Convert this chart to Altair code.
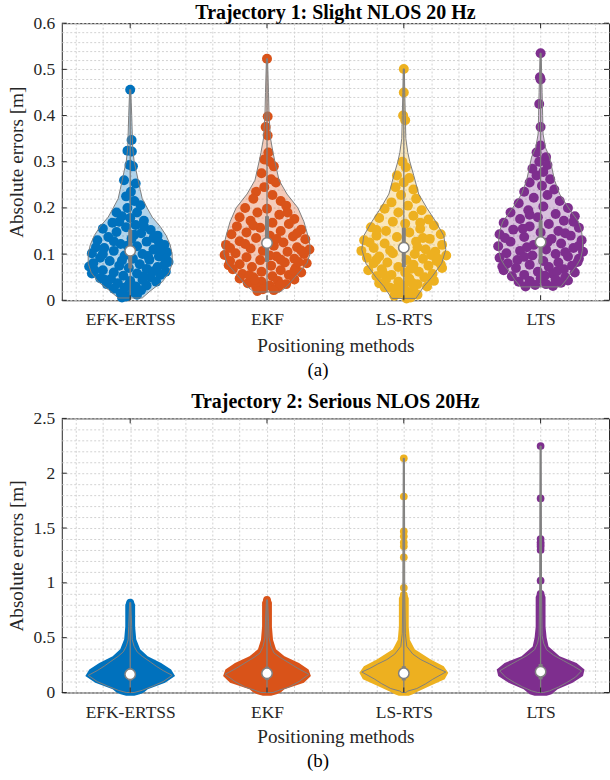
import altair as alt
import pandas as pd

FONT = "Liberation Serif"
TEXT = "#262626"
GRAY = "#808080"

methods = ["EFK-ERTSS", "EKF", "LS-RTS", "LTS"]
positions = [1, 2, 3, 4]
colors = ["#0072BD", "#D95319", "#EDB120", "#7E2F8E"]

# ---------------- panel (a): Trajectory 1 ----------------
a_title = "Trajectory 1: Slight NLOS 20 Hz"
a_caption = "(a)"

# violin outlines: (error value [m], half width in x-axis units)
a_efk_shape = [(0.005, 0.088), (0.02, 0.146), (0.04, 0.234), (0.06, 0.285), (0.08, 0.307), (0.10, 0.307),
               (0.12, 0.292), (0.14, 0.263), (0.16, 0.219), (0.18, 0.161), (0.20, 0.124), (0.22, 0.088),
               (0.24, 0.073), (0.26, 0.058), (0.28, 0.044), (0.30, 0.029), (0.33, 0.018), (0.36, 0.015),
               (0.40, 0.011), (0.456, 0.004)]
a_ekf_shape = [(0.018, 0.095), (0.03, 0.146), (0.05, 0.204), (0.08, 0.292), (0.10, 0.314), (0.12, 0.314),
               (0.14, 0.299), (0.17, 0.27), (0.20, 0.226), (0.23, 0.146), (0.26, 0.088), (0.28, 0.073),
               (0.30, 0.058), (0.32, 0.044), (0.35, 0.026), (0.40, 0.015), (0.45, 0.011), (0.523, 0.004)]
a_ls_shape = [(0.004, 0.088), (0.02, 0.124), (0.03, 0.146), (0.05, 0.204), (0.08, 0.277), (0.11, 0.307),
              (0.14, 0.292), (0.17, 0.234), (0.20, 0.168), (0.23, 0.109), (0.27, 0.073), (0.30, 0.044),
              (0.32, 0.029), (0.35, 0.015), (0.40, 0.011), (0.45, 0.007), (0.501, 0.004)]
a_lts_shape = [(0.029, 0.146), (0.045, 0.19), (0.058, 0.219), (0.075, 0.263), (0.09, 0.292), (0.11, 0.307),
               (0.13, 0.307), (0.15, 0.299), (0.17, 0.277), (0.20, 0.204), (0.23, 0.139), (0.26, 0.102),
               (0.29, 0.08), (0.31, 0.066), (0.33, 0.036), (0.36, 0.018), (0.40, 0.015), (0.45, 0.011),
               (0.535, 0.004)]

# scatter samples: (error value [m], jitter in x-axis units)
a_efk_pts = [(0.456, 0.0), (0.347, 0.01), (0.324, -0.02), (0.322, 0.012), (0.293, -0.005), (0.29, 0.02),
             (0.26, -0.045), (0.253, 0.04), (0.235, 0.005), (0.225, -0.03), (0.215, 0.03), (0.206, 0.075),
             (0.2, -0.02), (0.19, -0.1), (0.19, 0.05), (0.182, -0.06), (0.178, 0.0), (0.172, 0.1),
             (0.168, -0.13), (0.163, 0.04), (0.158, -0.03), (0.155, -0.2), (0.152, 0.15), (0.148, -0.1),
             (0.145, 0.08), (0.14, 0.2), (0.137, -0.16), (0.135, 0.17), (0.133, 0.01), (0.13, -0.24),
             (0.127, 0.12), (0.125, 0.21), (0.122, -0.07), (0.12, 0.25), (0.117, 0.05), (0.115, -0.25),
             (0.113, -0.19), (0.11, 0.17), (0.107, -0.12), (0.104, 0.27), (0.102, -0.28), (0.1, 0.09),
             (0.097, -0.04), (0.095, 0.21), (0.092, -0.22), (0.09, 0.02), (0.09, 0.26), (0.088, 0.14),
             (0.085, -0.15), (0.083, 0.28), (0.08, -0.27), (0.078, 0.07), (0.075, -0.08), (0.073, -0.3),
             (0.072, 0.2), (0.07, -0.01), (0.068, 0.12), (0.065, -0.2), (0.065, -0.26), (0.062, 0.26),
             (0.06, -0.12), (0.058, 0.05), (0.055, 0.22), (0.053, -0.05), (0.05, 0.15), (0.048, -0.22),
             (0.046, -0.14), (0.044, 0.09), (0.042, 0.0), (0.04, 0.19), (0.037, -0.09), (0.035, -0.17),
             (0.032, 0.12), (0.03, 0.04), (0.027, -0.04), (0.025, -0.12), (0.022, 0.08), (0.018, 0.02),
             (0.015, -0.07), (0.012, 0.05), (0.008, -0.03), (0.006, -0.06),
             (0.118, -0.02), (0.128, -0.12), (0.142, 0.03), (0.096, 0.13), (0.086, -0.06), (0.077, 0.25),
             (0.063, 0.17), (0.052, 0.1), (0.045, -0.19), (0.034, -0.01), (0.108, 0.22), (0.16, 0.1),
             (0.17, -0.08), (0.1, -0.2), (0.058, -0.28)]
a_ekf_pts = [(0.523, 0.0), (0.398, 0.005), (0.375, -0.01), (0.357, 0.005), (0.32, 0.01), (0.305, -0.02),
             (0.3, 0.02), (0.29, 0.05), (0.275, -0.04), (0.262, 0.03), (0.255, 0.065), (0.245, -0.02),
             (0.235, -0.08), (0.228, 0.04), (0.22, -0.1), (0.215, 0.1), (0.205, 0.14), (0.2, -0.16),
             (0.198, 0.0), (0.19, -0.07), (0.185, 0.09), (0.18, -0.2), (0.176, 0.2), (0.172, -0.12),
             (0.168, 0.04), (0.165, 0.16), (0.16, -0.22), (0.157, -0.05), (0.153, 0.25), (0.15, 0.1),
             (0.147, -0.15), (0.143, -0.26), (0.14, 0.02), (0.138, 0.19), (0.135, -0.08), (0.132, 0.28),
             (0.128, -0.2), (0.125, 0.12), (0.12, -0.3), (0.118, 0.05), (0.115, 0.22), (0.112, -0.12),
             (0.11, 0.31), (0.107, -0.03), (0.105, 0.15), (0.102, -0.23), (0.1, 0.27), (0.098, -0.31),
             (0.095, 0.07), (0.093, -0.15), (0.09, 0.2), (0.087, -0.05), (0.085, -0.27), (0.082, 0.13),
             (0.08, 0.29), (0.078, -0.2), (0.075, 0.03), (0.072, -0.11), (0.07, 0.21), (0.067, -0.25),
             (0.065, 0.1), (0.062, -0.04), (0.06, 0.25), (0.057, -0.18), (0.055, 0.16), (0.052, 0.04),
             (0.05, -0.1), (0.047, -0.2), (0.045, 0.2), (0.042, 0.08), (0.04, -0.04), (0.037, -0.14),
             (0.035, 0.14), (0.032, 0.02), (0.03, -0.08), (0.027, 0.08), (0.024, -0.03), (0.022, 0.05),
             (0.02, -0.07),
             (0.133, 0.07), (0.122, -0.16), (0.108, 0.25), (0.097, 0.02), (0.088, 0.1), (0.076, -0.28),
             (0.064, 0.2), (0.054, -0.13), (0.044, -0.09), (0.034, 0.1), (0.145, 0.22), (0.162, -0.1),
             (0.113, -0.27), (0.083, 0.23), (0.19, 0.15)]
a_ls_pts = [(0.501, 0.0), (0.45, 0.0), (0.4, -0.005), (0.39, 0.01), (0.3, -0.01), (0.288, 0.015),
            (0.27, -0.05), (0.265, 0.04), (0.255, 0.0), (0.245, -0.06), (0.24, 0.07), (0.228, -0.02),
            (0.22, 0.09), (0.212, -0.09), (0.205, 0.03), (0.198, -0.14), (0.195, 0.13), (0.19, -0.04),
            (0.183, 0.07), (0.178, -0.18), (0.175, 0.18), (0.17, -0.08), (0.166, 0.01), (0.162, 0.22),
            (0.158, -0.24), (0.155, 0.12), (0.15, -0.13), (0.147, 0.04), (0.143, 0.27), (0.14, -0.2),
            (0.137, -0.05), (0.133, 0.19), (0.13, -0.29), (0.127, 0.09), (0.123, -0.14), (0.12, 0.28),
            (0.117, 0.0), (0.113, -0.22), (0.11, 0.16), (0.107, -0.31), (0.105, 0.23), (0.102, -0.08),
            (0.1, 0.08), (0.097, 0.31), (0.095, -0.18), (0.092, -0.27), (0.09, 0.14), (0.087, 0.02),
            (0.085, 0.24), (0.082, -0.12), (0.08, -0.22), (0.077, 0.07), (0.075, 0.18), (0.072, -0.04),
            (0.07, 0.28), (0.067, -0.16), (0.065, -0.26), (0.062, 0.11), (0.06, 0.01), (0.057, 0.21),
            (0.055, -0.09), (0.052, -0.2), (0.05, 0.15), (0.047, 0.04), (0.045, -0.13), (0.042, 0.22),
            (0.04, -0.04), (0.037, -0.18), (0.035, 0.1), (0.032, 0.0), (0.03, 0.17), (0.027, -0.1),
            (0.025, -0.06), (0.022, 0.07), (0.019, 0.02), (0.016, -0.03), (0.012, 0.1), (0.01, -0.07),
            (0.006, 0.05), (0.004, 0.02),
            (0.135, 0.14), (0.125, -0.25), (0.115, 0.1), (0.098, 0.2), (0.088, -0.2), (0.078, 0.27),
            (0.068, 0.05), (0.058, -0.15), (0.048, 0.2), (0.038, 0.06), (0.152, -0.2), (0.168, 0.12),
            (0.108, -0.1), (0.09, 0.25), (0.028, -0.14)]
a_lts_pts = [(0.535, 0.0), (0.483, -0.005), (0.478, 0.0), (0.425, -0.01), (0.375, 0.0), (0.335, 0.0),
             (0.32, -0.03), (0.31, 0.04), (0.3, -0.01), (0.293, 0.05), (0.285, -0.06), (0.278, 0.02),
             (0.27, -0.03), (0.262, 0.07), (0.255, -0.08), (0.248, 0.01), (0.24, 0.1), (0.235, -0.12),
             (0.228, 0.05), (0.222, -0.05), (0.215, 0.14), (0.21, -0.16), (0.203, 0.02), (0.2, 0.2),
             (0.195, -0.09), (0.19, -0.22), (0.187, 0.11), (0.182, 0.25), (0.18, -0.02), (0.176, -0.15),
             (0.172, 0.17), (0.168, -0.27), (0.165, 0.06), (0.16, -0.08), (0.157, 0.28), (0.153, -0.2),
             (0.15, 0.13), (0.147, 0.0), (0.143, -0.3), (0.14, 0.22), (0.137, -0.12), (0.133, 0.08),
             (0.13, 0.3), (0.127, -0.22), (0.123, 0.15), (0.12, -0.05), (0.117, -0.31), (0.113, 0.24),
             (0.11, 0.04), (0.107, -0.15), (0.105, 0.31), (0.102, -0.25), (0.1, 0.11), (0.097, -0.06),
             (0.095, 0.2), (0.092, -0.3), (0.09, 0.28), (0.087, -0.17), (0.085, 0.02), (0.082, 0.13),
             (0.08, -0.24), (0.077, -0.08), (0.075, 0.23), (0.072, 0.06), (0.07, -0.18), (0.067, 0.17),
             (0.065, -0.27), (0.062, -0.02), (0.06, 0.25), (0.057, 0.09), (0.055, -0.12), (0.052, -0.21),
             (0.05, 0.18), (0.047, 0.0), (0.045, 0.11), (0.042, -0.08), (0.04, -0.16), (0.038, 0.15),
             (0.035, 0.04), (0.033, -0.04), (0.031, 0.09), (0.03, -0.11),
             (0.145, 0.18), (0.135, -0.26), (0.125, 0.05), (0.115, -0.1), (0.104, 0.18), (0.094, -0.12),
             (0.083, 0.27), (0.073, -0.28), (0.063, 0.12), (0.053, 0.03), (0.043, 0.2), (0.155, -0.13),
             (0.17, 0.24), (0.185, -0.08), (0.118, 0.28)]

a_q1 = [0.069, 0.083, 0.072, 0.08]
a_median = [0.107, 0.124, 0.114, 0.126]
a_q3 = [0.153, 0.182, 0.157, 0.173]
a_min = [0.005, 0.018, 0.004, 0.029]
a_max = [0.456, 0.523, 0.501, 0.535]
a_yticks = [0, 0.1, 0.2, 0.3, 0.4, 0.5, 0.6]

# ---------------- panel (b): Trajectory 2 ----------------
b_title = "Trajectory 2: Serious NLOS 20Hz"
b_caption = "(b)"

b_efk_shape = [(0.0, 0.029), (0.02, 0.088), (0.06, 0.168), (0.1, 0.241), (0.156, 0.307), (0.2, 0.241),
               (0.24, 0.19), (0.28, 0.146), (0.33, 0.088), (0.37, 0.051), (0.42, 0.029), (0.48, 0.015),
               (0.6, 0.011), (0.82, 0.004)]
b_ekf_shape = [(0.0, 0.044), (0.02, 0.088), (0.05, 0.161), (0.1, 0.234), (0.166, 0.307), (0.22, 0.226),
               (0.27, 0.161), (0.32, 0.095), (0.36, 0.051), (0.42, 0.029), (0.5, 0.015), (0.65, 0.011),
               (0.845, 0.004)]
b_ls_shape = [(0.0, 0.015), (0.013, 0.029), (0.036, 0.095), (0.08, 0.161), (0.121, 0.212), (0.187, 0.307),
              (0.22, 0.248), (0.26, 0.19), (0.3, 0.124), (0.35, 0.066), (0.42, 0.022), (0.54, 0.011),
              (0.9, 0.007), (1.5, 0.006), (2.136, 0.004)]
b_lts_shape = [(0.0, 0.022), (0.015, 0.066), (0.05, 0.131), (0.09, 0.19), (0.14, 0.255), (0.197, 0.299),
               (0.24, 0.241), (0.29, 0.168), (0.34, 0.095), (0.39, 0.044), (0.45, 0.022), (0.52, 0.011),
               (0.9, 0.007), (1.5, 0.006), (2.248, 0.004)]

# envelope of the densely packed sample markers (too many to draw one by one)
b_efk_dense = [(-0.03, 0.03), (-0.015, 0.07), (0.0, 0.1), (0.03, 0.128), (0.09, 0.255), (0.15, 0.328),
               (0.21, 0.299), (0.27, 0.226), (0.33, 0.128), (0.394, 0.073), (0.485, 0.044), (0.6, 0.036),
               (0.8, 0.036), (0.83, 0.026), (0.85, 0.004)]
b_ekf_dense = [(-0.03, 0.03), (-0.015, 0.07), (0.0, 0.1), (0.03, 0.128), (0.09, 0.27), (0.15, 0.321),
               (0.21, 0.304), (0.27, 0.234), (0.33, 0.128), (0.394, 0.066), (0.48, 0.044), (0.6, 0.036),
               (0.82, 0.036), (0.85, 0.026), (0.87, 0.004)]
b_ls_dense = [(-0.03, 0.036), (-0.015, 0.066), (0.0, 0.088), (0.06, 0.19), (0.12, 0.299), (0.18, 0.325),
              (0.24, 0.292), (0.3, 0.197), (0.394, 0.08), (0.48, 0.044), (0.6, 0.036), (0.86, 0.036),
              (0.89, 0.026), (0.905, 0.004)]
b_lts_dense = [(-0.03, 0.044), (-0.015, 0.08), (0.03, 0.124), (0.09, 0.234), (0.15, 0.31), (0.21, 0.321),
               (0.27, 0.263), (0.33, 0.139), (0.42, 0.058), (0.5, 0.044), (0.6, 0.036), (0.87, 0.036),
               (0.9, 0.026), (0.915, 0.004)]

# isolated samples above the dense part
b_efk_out = [0.82]
b_ekf_out = [0.845]
b_ls_out = [2.136, 1.787, 1.469, 1.424, 1.369, 1.333, 1.233, 0.955, 0.89]
b_lts_out = [2.248, 1.77, 1.40, 1.37, 1.35, 1.33, 1.30, 1.02, 0.9]

b_q1 = [0.11, 0.115, 0.11, 0.12]
b_median = [0.166, 0.175, 0.175, 0.19]
b_q3 = [0.22, 0.235, 0.24, 0.26]
b_min = [0.0, 0.0, 0.0, 0.0]
b_max = [0.82, 0.845, 2.136, 2.248]
b_yticks = [0, 0.5, 1, 1.5, 2, 2.5]

# ---------------- helpers ----------------
W = 549
HA = 278
HB = 275

x_grid = [round(0.6 + 0.2 * k, 1) for k in range(20)]
a_ygrid = [round(0.02 * k, 2) for k in range(31)]
b_ygrid = [round(0.1 * k, 1) for k in range(26)]
x_label_expr = " : ".join(f"datum.value == {p} ? '{m}'" for m, p in zip(methods, positions)) + " : ''"
a_label_expr = "round(datum.value * 100) % 10 == 0 ? format(datum.value, '~g') : ''"
b_label_expr = "round(datum.value * 10) % 5 == 0 ? format(datum.value, '~g') : ''"


def shape_df(shapes):
    rows = []
    for m, p, shp in zip(methods, positions, shapes):
        for v, h in shp:
            rows.append({"method": m, "value": v, "lo": p - h, "hi": p + h})
    return pd.DataFrame(rows)


def points_df(pts_list):
    rows = []
    for m, p, pts in zip(methods, positions, pts_list):
        for v, dx in pts:
            rows.append({"method": m, "value": v, "x": p + dx})
    return pd.DataFrame(rows)


def make_panel(title, title_offset, shapes, pts, pt_size, q1, med, q3, mn, mx, ydom, ygrid, yexpr,
               ymajor, H, lab_pad, tit_y, caption, cap_y, dense=None):
    xs = alt.Scale(domain=[0.5, 4.5], nice=False, zero=False)
    ys = alt.Scale(domain=ydom, nice=False, zero=False)
    xax = alt.Axis(values=x_grid, labelExpr=x_label_expr, title="Positioning methods",
                   grid=True, gridColor="#d2d2d2", gridDash=[2, 2], gridWidth=1,
                   ticks=False, tickSize=0, domain=False,
                   labelPadding=lab_pad, labelBaseline="alphabetic", labelFont=FONT, labelFontSize=17.5,
                   labelColor=TEXT, labelOverlap=False, labelFlush=False,
                   titleFont=FONT, titleFontSize=19.25, titleFontWeight="normal", titleColor=TEXT,
                   titleX=W / 2, titleY=tit_y, titleBaseline="alphabetic")
    yax = alt.Axis(values=ygrid, labelExpr=yexpr, title="Absolute errors [m]",
                   grid=True, gridColor="#d2d2d2", gridDash=[2, 2], gridWidth=1,
                   ticks=False, tickSize=0, domain=False,
                   labelPadding=7, labelFont=FONT, labelFontSize=17.5, labelColor=TEXT,
                   labelOverlap=False, labelFlush=False,
                   titleFont=FONT, titleFontSize=19.25, titleFontWeight="normal", titleColor=TEXT,
                   titleX=-39, titleY=H / 2, titleAngle=270, titleBaseline="alphabetic")
    col = alt.Color("method:N", scale=alt.Scale(domain=methods, range=colors), legend=None)
    stats = pd.DataFrame({"method": methods, "pos": positions, "q1": q1, "med": med, "q3": q3,
                          "mn": mn, "mx": mx})
    layers = []
    if dense is not None:
        layers.append(alt.Chart(shape_df(dense)).mark_area(orient="horizontal", opacity=1).encode(
            y=alt.Y("value:Q", scale=ys, axis=yax), x=alt.X("lo:Q", scale=xs, axis=xax), x2="hi:Q",
            color=col, detail="method:N"))
    layers.append(alt.Chart(points_df(pts)).mark_circle(size=pt_size, opacity=1).encode(
        x=alt.X("x:Q", scale=xs, axis=xax), y=alt.Y("value:Q", scale=ys, axis=yax), color=col))
    layers.append(alt.Chart(shape_df(shapes)).mark_area(orient="horizontal", fillOpacity=0.3,
                                                        stroke=GRAY, strokeWidth=1).encode(
        y=alt.Y("value:Q", scale=ys, axis=yax), x=alt.X("lo:Q", scale=xs, axis=xax), x2="hi:Q",
        color=col, detail="method:N"))
    base = alt.Chart(stats)
    layers.append(base.mark_rule(color=GRAY, strokeWidth=1.3).encode(
        x=alt.X("pos:Q", scale=xs, axis=xax), y=alt.Y("mn:Q", scale=ys, axis=yax), y2="mx:Q"))
    layers.append(base.mark_rule(color=GRAY, strokeWidth=4).encode(
        x=alt.X("pos:Q", scale=xs, axis=xax), y=alt.Y("q1:Q", scale=ys, axis=yax), y2="q3:Q"))
    layers.append(base.mark_circle(size=110, color="white", opacity=1, stroke=GRAY, strokeWidth=1.5).encode(
        x=alt.X("pos:Q", scale=xs, axis=xax), y=alt.Y("med:Q", scale=ys, axis=yax)))
    # inward ticks on all four sides (MATLAB box style)
    layers.append(base.mark_rule(color=TEXT, strokeWidth=1).encode(
        x=alt.X("pos:Q", scale=xs, axis=xax), y=alt.value(0), y2=alt.value(5)))
    layers.append(base.mark_rule(color=TEXT, strokeWidth=1).encode(
        x=alt.X("pos:Q", scale=xs, axis=xax), y=alt.value(H), y2=alt.value(H - 5)))
    tdf = alt.Chart(pd.DataFrame({"tick": ymajor}))
    layers.append(tdf.mark_rule(color=TEXT, strokeWidth=1).encode(
        y=alt.Y("tick:Q", scale=ys, axis=yax), x=alt.value(0), x2=alt.value(5)))
    layers.append(tdf.mark_rule(color=TEXT, strokeWidth=1).encode(
        y=alt.Y("tick:Q", scale=ys, axis=yax), x=alt.value(W), x2=alt.value(W - 5)))
    layers.append(alt.Chart(pd.DataFrame({"caption": [caption]})).mark_text(
        font=FONT, fontSize=19, color="black", baseline="alphabetic", align="center").encode(
        text="caption:N", x=alt.value(257), y=alt.value(cap_y)))
    return alt.layer(*layers).properties(
        width=W, height=H,
        title=alt.TitleParams(text=title, font=FONT, fontSize=20, fontWeight="bold", color="black",
                              anchor="middle", frame="group", baseline="alphabetic", offset=title_offset))


panel_a = make_panel(a_title, -24.3, [a_efk_shape, a_ekf_shape, a_ls_shape, a_lts_shape],
                     [a_efk_pts, a_ekf_pts, a_ls_pts, a_lts_pts], 100,
                     a_q1, a_median, a_q3, a_min, a_max, [0, 0.6], a_ygrid, a_label_expr, a_yticks,
                     HA, 24, 51, a_caption, HA + 76)

b_pts = [[(v, 0.0) for v in lst] for lst in [b_efk_out, b_ekf_out, b_ls_out, b_lts_out]]
panel_b = make_panel(b_title, -18.8, [b_efk_shape, b_ekf_shape, b_ls_shape, b_lts_shape],
                     b_pts, 60,
                     b_q1, b_median, b_q3, b_min, b_max, [0, 2.5], b_ygrid, b_label_expr, b_yticks,
                     HB, 25, 50, b_caption, HB + 75,
                     dense=[b_efk_dense, b_ekf_dense, b_ls_dense, b_lts_dense])

chart = alt.vconcat(panel_a, panel_b, spacing=118.5, bounds="flush").properties(
    padding={"left": 7, "top": 0, "right": 0, "bottom": 0}, background="white"
).configure_view(stroke=TEXT, strokeWidth=1)

chart.save("out.html", embed_options={"renderer": "svg", "actions": False})
